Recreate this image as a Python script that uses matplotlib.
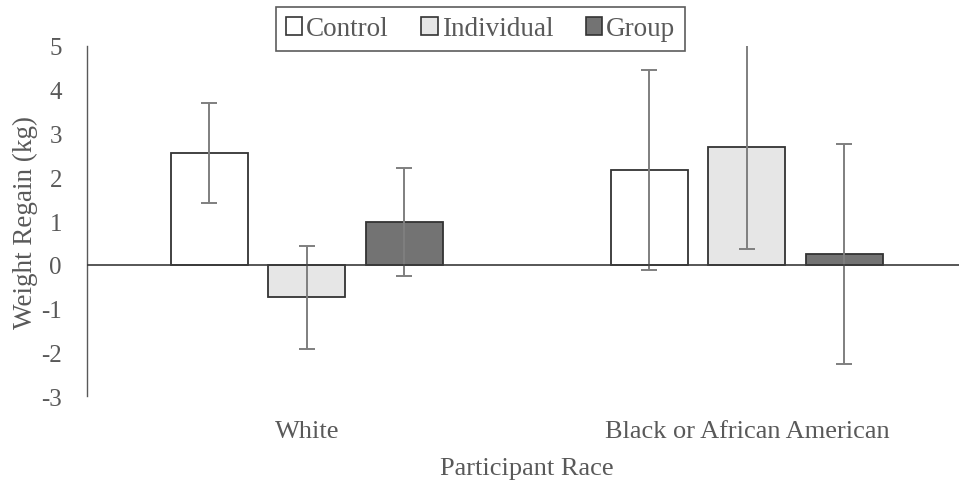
import numpy as np
import matplotlib
matplotlib.use('Agg')
import matplotlib.pyplot as plt
from matplotlib.patches import Patch

plt.rcParams['font.family'] = ['Liberation Serif', 'DejaVu Serif']
plt.rcParams['axes.unicode_minus'] = False

races = ['White', 'Black or African American']
groups = ['Control', 'Individual', 'Group']
control_mean = [2.55, 2.16]
control_err = [1.14, 2.29]
individual_mean = [-0.74, 2.70]
individual_err = [1.18, 2.35]
group_mean = [0.98, 0.25]
group_err = [1.23, 2.52]

means = [control_mean, individual_mean, group_mean]
errs = [control_err, individual_err, group_err]
colors = ['#ffffff', '#e6e6e6', '#737373']
text_color = '#595959'

fig = plt.figure(figsize=(9.59, 4.85), dpi=100)
ax = fig.add_axes([0.0907, 0.1814, 0.9176, 0.7217])

x = np.arange(len(races))
width = 0.175
step = 0.2216
for i in range(len(groups)):
    pos = x + (i - 1) * step
    ax.bar(pos, means[i], width, color=colors[i], edgecolor='#333333', linewidth=1.3,
           label=groups[i], zorder=2)
    ax.errorbar(pos, means[i], yerr=errs[i], fmt='none', ecolor='#7f7f7f',
                elinewidth=1.4, capsize=5.5, capthick=1.4, zorder=3)

ax.axhline(0, color='#3a3a3a', linewidth=1.2, zorder=4)
ax.set_xlim(-0.5, 1.5)
ax.set_ylim(-3, 5)
ax.set_yticks(range(-3, 6))
ax.set_xticks(x)
ax.set_xticklabels(races)
for s in ['top', 'right', 'bottom']:
    ax.spines[s].set_visible(False)
ax.spines['left'].set_color('#595959')
ax.spines['left'].set_linewidth(1.0)
ax.tick_params(axis='y', length=0, pad=18, labelsize=18, labelcolor=text_color)
ax.tick_params(axis='x', length=0, pad=17, labelsize=19, labelcolor=text_color)

ax.set_ylabel('Weight Regain (kg)', fontsize=19.5, color=text_color, labelpad=2)
ax.set_xlabel('Participant Race', fontsize=19, color=text_color, labelpad=11)

handles = [Patch(facecolor=colors[i], edgecolor='#333333', linewidth=1.2) for i in range(3)]
leg = fig.legend(handles, groups, loc='upper center', bbox_to_anchor=(480.5 / 959, 1 - 8 / 485),
                 ncol=3, fontsize=19.5, frameon=True, fancybox=False, edgecolor='#333333',
                 handlelength=0.6, handleheight=0.6, handletextpad=0.15, columnspacing=1.2,
                 borderpad=0.35, borderaxespad=0)
leg.get_frame().set_linewidth(1.2)
for t in leg.get_texts():
    t.set_color(text_color)

fig.savefig('out.png', dpi=100)
